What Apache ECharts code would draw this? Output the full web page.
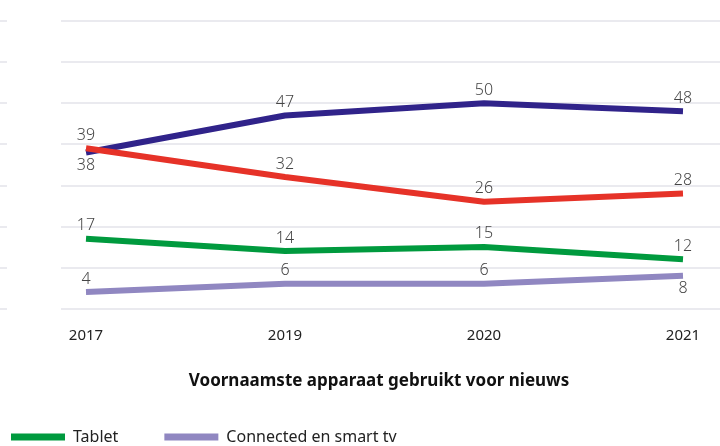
<!DOCTYPE html>
<html>
<head>
<meta charset="utf-8">
<script src="https://cdn.jsdelivr.net/npm/echarts@6/dist/echarts.min.js"></script>
<style>
  html, body { margin: 0; padding: 0; background: #fff; }
  #main { width: 720px; height: 446px; }
</style>
</head>
<body>
<div id="main"></div>
<script>
// data
const years = ['2017', '2019', '2020', '2021'];
const smartphone = [38, 47, 50, 48];
const computer = [39, 32, 26, 28];
const tablet = [17, 14, 15, 12];
const smartTv = [4, 6, 6, 8];

const chart = echarts.init(document.getElementById('main'));

const font = 'Noto Sans';
const gridColor = '#e3e3ea';

function lineSeries(name, data, color, labelPos) {
  return {
    name: name,
    type: 'line',
    xAxisIndex: 1,
    yAxisIndex: 1,
    data: data.map((v, i) => ({
      value: v,
      label: { position: labelPos[i] }
    })),
    symbol: 'circle',
    symbolSize: 0,
    showSymbol: true,
    lineStyle: { color: color, width: 6 },
    itemStyle: { color: color },
    label: {
      show: true,
      color: '#454545',
      fontSize: 16,
      fontWeight: 300,
      fontFamily: font,
      distance: 5
    },
    animation: false
  };
}

const option = {
  animation: false,
  title: {
    text: 'Voornaamste apparaat gebruikt voor nieuws',
    left: 374,
    top: 368,
    textAlign: 'center',
    textStyle: { fontSize: 17, fontWeight: 'bold', color: '#111', fontFamily: font }
  },
  legend: {
    data: ['Tablet', 'Connected en smart tv'],
    left: 11,
    top: 429,
    padding: 0,
    icon: 'rect',
    itemWidth: 54,
    itemHeight: 7,
    itemGap: 46,
    textStyle: { fontSize: 16, color: '#222', fontFamily: font, padding: [0, 0, 0, 3] }
  },
  grid: [
    // wide grid carrying the horizontal lines
    { left: 61, right: 0, top: 21, bottom: 137.5 },
    // plot grid for the series
    { left: 86, right: 37, top: 21, bottom: 137.5 },
    // small stubs at far left
    { left: 0, width: 7, top: 21, bottom: 137.5 }
  ],
  xAxis: [
    { gridIndex: 0, type: 'category', data: years, show: false },
    {
      gridIndex: 1,
      type: 'category',
      data: years,
      boundaryGap: false,
      axisLine: { show: false },
      axisTick: { show: false },
      axisLabel: { color: '#222', fontSize: 15, fontFamily: font, margin: 20 }
    },
    { gridIndex: 2, type: 'category', data: years, show: false }
  ],
  yAxis: [
    {
      gridIndex: 0, type: 'value', min: 0, max: 70, interval: 10,
      axisLine: { show: false }, axisTick: { show: false }, axisLabel: { show: false },
      splitLine: { lineStyle: { color: gridColor, width: 1.5 } }
    },
    {
      gridIndex: 1, type: 'value', min: 0, max: 70, interval: 10,
      axisLine: { show: false }, axisTick: { show: false }, axisLabel: { show: false },
      splitLine: { show: false }
    },
    {
      gridIndex: 2, type: 'value', min: 0, max: 70, interval: 10,
      axisLine: { show: false }, axisTick: { show: false }, axisLabel: { show: false },
      splitLine: { lineStyle: { color: gridColor, width: 1.5 } }
    }
  ],
  series: [
    lineSeries('Smartphone', smartphone, '#30238a', ['bottom', 'top', 'top', 'top']),
    lineSeries('Computer', computer, '#e63228', ['top', 'top', 'top', 'top']),
    lineSeries('Tablet', tablet, '#009a3e', ['top', 'top', 'top', 'top']),
    lineSeries('Connected en smart tv', smartTv, '#9087c1', ['top', 'top', 'top', 'bottom'])
  ]
};

chart.setOption(option);
</script>
</body>
</html>
